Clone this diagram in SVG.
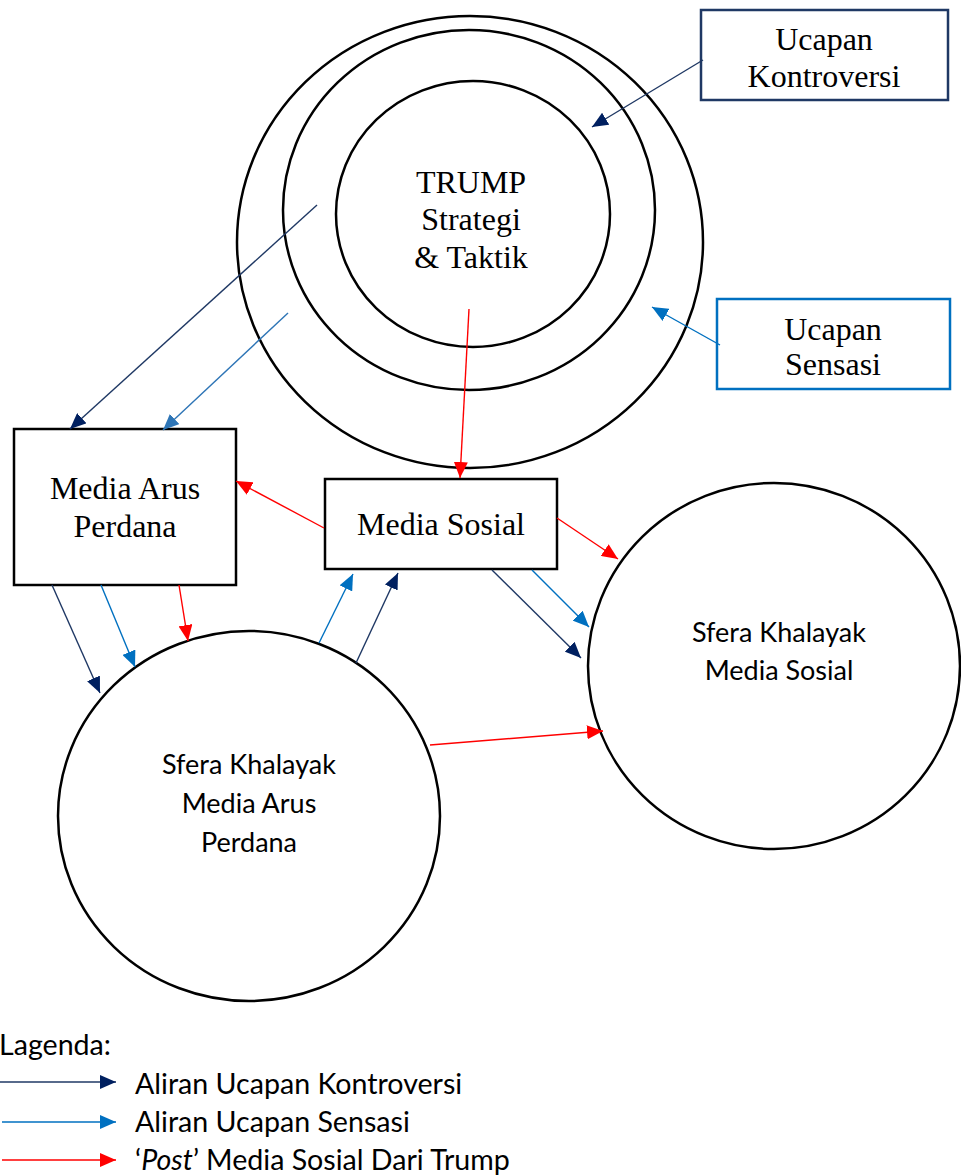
<svg xmlns="http://www.w3.org/2000/svg" width="961" height="1175" viewBox="0 0 961 1175">
<style>
.shape{fill:#fff;stroke:#000;stroke-width:2.5}
.ring{fill:none;stroke:#000;stroke-width:2.5}
.serif{font-family:"Liberation Serif","Times New Roman",serif;font-size:32px;fill:#000;text-anchor:middle}
.sans{font-family:Lato,"Liberation Sans",sans-serif;font-size:27px;fill:#000;text-anchor:middle}
.leg{font-family:Lato,"Liberation Sans",sans-serif;font-size:28.6px;fill:#000}
.navy{stroke:#1F3864;stroke-width:1.4;fill:none;marker-end:url(#hNavy)}
.blue{stroke:#0070C0;stroke-width:1.4;fill:none;marker-end:url(#hBlue)}
.blue2{stroke:#2E75B6;stroke-width:1.4;fill:none;marker-end:url(#hBlue2)}
.red{stroke:#FF0000;stroke-width:1.4;fill:none;marker-end:url(#hRed)}
</style>
<defs>
<marker id="hNavy" markerUnits="userSpaceOnUse" markerWidth="16" markerHeight="14" viewBox="0 0 16 14" refX="16" refY="7" orient="auto"><path d="M0,0 L16,7 L0,14 Z" fill="#002060"/></marker>
<marker id="hBlue" markerUnits="userSpaceOnUse" markerWidth="16" markerHeight="14" viewBox="0 0 16 14" refX="16" refY="7" orient="auto"><path d="M0,0 L16,7 L0,14 Z" fill="#0070C0"/></marker>
<marker id="hBlue2" markerUnits="userSpaceOnUse" markerWidth="16" markerHeight="14" viewBox="0 0 16 14" refX="16" refY="7" orient="auto"><path d="M0,0 L16,7 L0,14 Z" fill="#2E75B6"/></marker>
<marker id="hRed" markerUnits="userSpaceOnUse" markerWidth="16" markerHeight="14" viewBox="0 0 16 14" refX="16" refY="7" orient="auto"><path d="M0,0 L16,7 L0,14 Z" fill="#FF0000"/></marker>
</defs>
<rect width="961" height="1175" fill="#fff"/>

<g id="trump">
<ellipse class="ring" cx="470" cy="242" rx="233" ry="226"/>
<ellipse class="ring" cx="469" cy="210" rx="186" ry="180"/>
<ellipse class="ring" cx="473" cy="214" rx="137" ry="133"/>
<text class="serif" x="471" y="193">TRUMP</text>
<text class="serif" x="471" y="230">Strategi</text>
<text class="serif" x="471" y="268">&amp; Taktik</text>
</g>

<g id="ucapan-kontroversi">
<rect x="701" y="10" width="247" height="90" fill="#fff" stroke="#1F3864" stroke-width="2.5"/>
<text class="serif" x="824" y="50">Ucapan</text>
<text class="serif" x="824" y="87">Kontroversi</text>
</g>

<g id="ucapan-sensasi">
<rect x="717" y="299" width="233" height="90" fill="#fff" stroke="#0070C0" stroke-width="2.5"/>
<text class="serif" x="833" y="340">Ucapan</text>
<text class="serif" x="833" y="375">Sensasi</text>
</g>

<g id="media-arus-perdana">
<rect class="shape" x="14" y="429" width="222" height="156"/>
<text class="serif" x="125" y="499">Media Arus</text>
<text class="serif" x="125" y="537">Perdana</text>
</g>

<g id="media-sosial">
<rect class="shape" x="325" y="479" width="232" height="90"/>
<text class="serif" x="441" y="535">Media Sosial</text>
</g>

<g id="sfera-map">
<ellipse class="shape" cx="249" cy="816" rx="191" ry="185"/>
<text class="sans" x="249" y="774">Sfera Khalayak</text>
<text class="sans" x="249" y="813">Media Arus</text>
<text class="sans" x="249" y="852">Perdana</text>
</g>

<g id="sfera-ms">
<ellipse class="shape" cx="774" cy="666" rx="186" ry="183"/>
<text class="sans" x="779" y="642">Sfera Khalayak</text>
<text class="sans" x="779" y="680">Media Sosial</text>
</g>

<g id="connectors">
<line class="navy" x1="703" y1="60" x2="592" y2="127"/>
<line class="blue" x1="720" y1="345" x2="652" y2="307"/>
<line class="navy" x1="317" y1="205" x2="70" y2="429"/>
<line class="blue2" x1="288" y1="313" x2="163" y2="430"/>
<line class="red" x1="469" y1="309" x2="460" y2="478"/>
<line class="red" x1="324" y1="528" x2="236" y2="481"/>
<line class="navy" x1="52" y1="585" x2="100" y2="693"/>
<line class="blue" x1="101" y1="585" x2="135" y2="667"/>
<line class="red" x1="179" y1="585" x2="188" y2="641"/>
<line class="blue" x1="319" y1="643" x2="353" y2="574"/>
<line class="navy" x1="356" y1="663" x2="398" y2="573"/>
<line class="red" x1="557" y1="518" x2="618" y2="559"/>
<line class="blue" x1="532" y1="570" x2="589" y2="627"/>
<line class="navy" x1="492" y1="570" x2="581" y2="658"/>
<line class="red" x1="430" y1="745" x2="603" y2="731"/>
</g>

<g id="legend">
<text class="leg" x="-1" y="1055">Lagenda:</text>
<line class="navy" x1="0" y1="1082" x2="116" y2="1082"/>
<text class="leg" x="135" y="1094">Aliran Ucapan Kontroversi</text>
<line class="blue" x1="2" y1="1122" x2="116" y2="1122"/>
<text class="leg" x="135" y="1132">Aliran Ucapan Sensasi</text>
<line class="red" x1="2" y1="1160" x2="116" y2="1160"/>
<text class="leg" x="135" y="1170">‘<tspan font-style="italic">Post</tspan>’ Media Sosial Dari Trump</text>
</g>
</svg>
